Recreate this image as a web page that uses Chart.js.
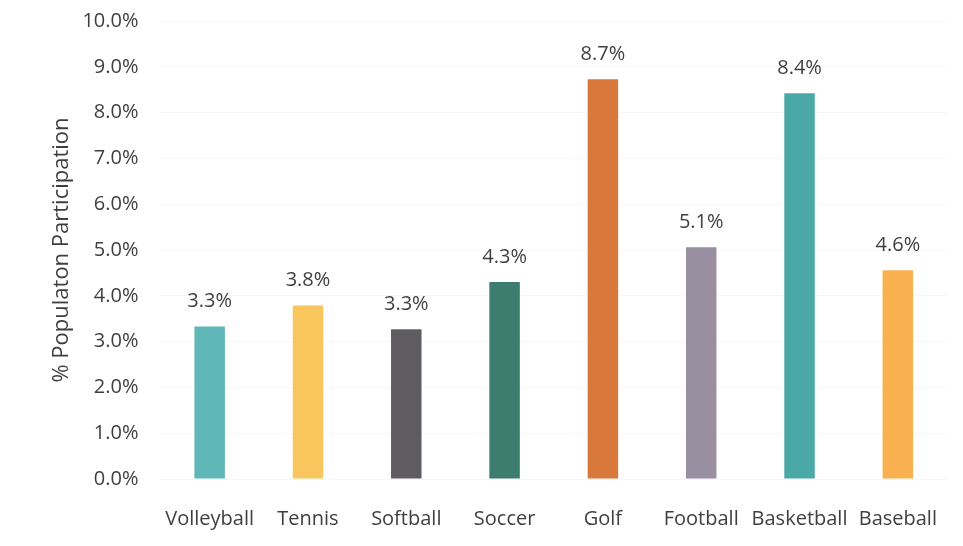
<!DOCTYPE html>
<html>
<head>
<meta charset="utf-8">
<script src="https://cdn.jsdelivr.net/npm/chart.js@4"></script>
<style>
    html, body { margin: 0; padding: 0; background: #fff; overflow: hidden; }
    #wrap { width: 963px; height: 559px; margin-top: -13px; }
</style>
</head>
<body>
<div id="wrap"><canvas id="myChart"></canvas></div>
<script>
const sports = ['Volleyball', 'Tennis', 'Softball', 'Soccer', 'Golf', 'Football', 'Basketball', 'Baseball'];
const participation = [3.33, 3.79, 3.27, 4.30, 8.73, 5.06, 8.42, 4.56];
const barColors = ['#5fb7b8', '#f8c65c', '#5e5c61', '#3d7d70', '#d9783b', '#9a8ea1', '#4aa8a6', '#f8b14e'];
const yTicks = [0, 1, 2, 3, 4, 5, 6, 7, 8, 9, 10];

const textColor = '#3f3f3f';
const fontFamily = '"Open Sans", sans-serif';

// value labels above each bar
const barLabels = {
    id: 'barLabels',
    afterDatasetsDraw(chart) {
        const ctx = chart.ctx;
        const meta = chart.getDatasetMeta(0);
        ctx.save();
        ctx.fillStyle = textColor;
        ctx.font = '20px ' + fontFamily;
        ctx.textAlign = 'center';
        ctx.textBaseline = 'alphabetic';
        meta.data.forEach((bar, i) => {
            ctx.fillText(participation[i].toFixed(1) + '%', bar.x, bar.y - 19);
        });
        ctx.restore();
    }
};

new Chart('myChart', {
    type: 'bar',
    data: {
        labels: sports,
        datasets: [{
            data: participation,
            backgroundColor: barColors,
            borderWidth: 0,
            barPercentage: 0.31,
            categoryPercentage: 1.0,
        }]
    },
    options: {
        responsive: true,
        maintainAspectRatio: false,
        animation: false,
        layout: {
            padding: { top: 1, right: 16, bottom: -5, left: 34 }
        },
        scales: {
            x: {
                grid: { display: false },
                border: { display: false },
                ticks: {
                    color: textColor,
                    font: { family: fontFamily, size: 20 },
                    padding: 20,
                    maxRotation: 0,
                    autoSkip: false,
                }
            },
            y: {
                min: 0,
                max: 10,
                afterBuildTicks: (axis) => {
                    axis.ticks = yTicks.map(v => ({ value: v }));
                },
                grid: { color: '#f7f7f7', drawTicks: false },
                border: { display: false },
                ticks: {
                    color: textColor,
                    font: { family: fontFamily, size: 20 },
                    padding: 22,
                    callback: (v) => v.toFixed(1) + '%',
                },
                title: {
                    display: true,
                    text: '% Populaton Participation',
                    color: textColor,
                    font: { family: fontFamily, size: 22 },
                    padding: { top: 15, bottom: -15 },
                }
            }
        },
        plugins: {
            legend: { display: false },
            tooltip: { enabled: false }
        }
    },
    plugins: [barLabels]
});
</script>
</body>
</html>
